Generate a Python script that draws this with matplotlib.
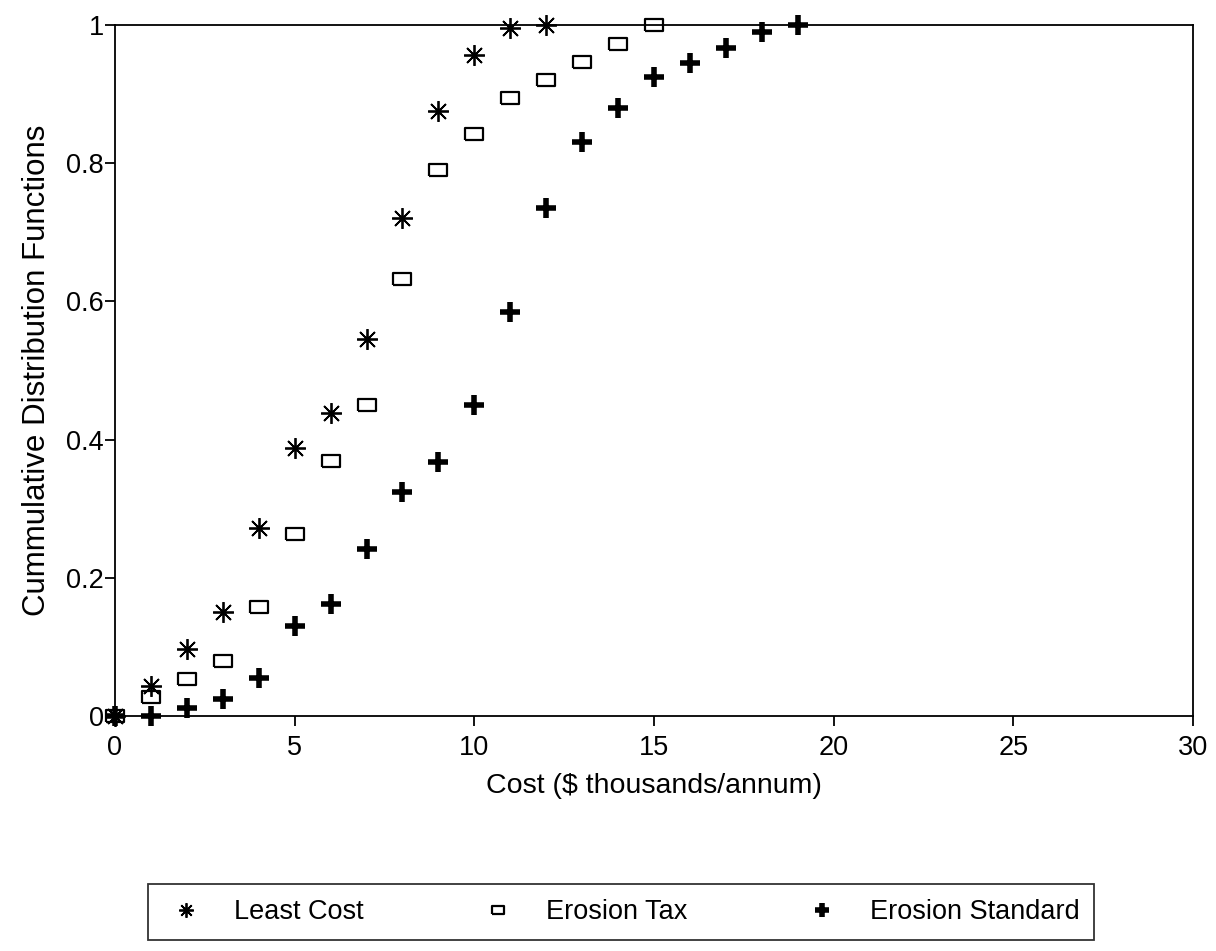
#!/usr/bin/env python3
"""
Cumulative distribution functions of cost for three erosion policies.
"""

import matplotlib
matplotlib.use('Agg')
import matplotlib.pyplot as plt
from matplotlib.ticker import FormatStrFormatter

plt.rcParams['font.family'] = ['Liberation Sans', 'DejaVu Sans']

# Data (cost in $ thousands/annum, CDF value)
least_cost_x = [0, 1, 2, 3, 4, 5, 6, 7, 8, 9, 10, 11, 12]
least_cost_y = [0, 0.043, 0.097, 0.15, 0.272, 0.388, 0.438, 0.546,
                0.72, 0.875, 0.957, 0.996, 1.0]

erosion_tax_x = [0, 1, 2, 3, 4, 5, 6, 7, 8, 9, 10, 11, 12, 13, 14, 15]
erosion_tax_y = [0, 0.027, 0.053, 0.08, 0.158, 0.264, 0.369, 0.45, 0.632,
                 0.79, 0.842, 0.894, 0.92, 0.946, 0.973, 1.0]

erosion_std_x = [0, 1, 2, 3, 4, 5, 6, 7, 8, 9, 10, 11, 12, 13, 14, 15,
                 16, 17, 18, 19]
erosion_std_y = [0, 0, 0.012, 0.025, 0.055, 0.13, 0.162, 0.242, 0.324,
                 0.368, 0.45, 0.585, 0.735, 0.83, 0.88, 0.925, 0.945,
                 0.967, 0.99, 1.0]

x_ticks = [0, 5, 10, 15, 20, 25, 30]
y_ticks = [0, 0.2, 0.4, 0.6, 0.8, 1]
y_tick_labels = ['0', '0.2', '0.4', '0.6', '0.8', '1']

# Hollow rectangle marker, wider than tall
rect_marker = [(-1, -0.68), (1, -0.68), (1, 0.68), (-1, 0.68), (-1, -0.68)]

fig = plt.figure(figsize=(12.16, 9.51), dpi=100)
fig.patch.set_facecolor('white')
ax = fig.add_axes([115 / 1216, 1 - 716 / 951, 1078 / 1216, 691 / 951])

ax.plot(least_cost_x, least_cost_y, linestyle='none', marker=(8, 2, 0),
        markersize=15, markeredgewidth=1.3, color='black',
        label='Least Cost', clip_on=False, zorder=3)
ax.plot(erosion_tax_x, erosion_tax_y, linestyle='none', marker=rect_marker,
        markersize=13, markeredgewidth=1.6, markerfacecolor='none',
        markeredgecolor='black', label='Erosion Tax', clip_on=False, zorder=3)
ax.plot(erosion_std_x, erosion_std_y, linestyle='none', marker='+',
        markersize=14, markeredgewidth=4, color='black',
        label='Erosion Standard', clip_on=False, zorder=3)

ax.set_xlim(0, 30)
ax.set_ylim(0, 1)
ax.set_xticks(x_ticks)
ax.set_yticks(y_ticks)
ax.set_yticklabels(y_tick_labels)
ax.xaxis.set_major_formatter(FormatStrFormatter('%d'))

ax.tick_params(axis='both', direction='out', length=7, width=1.3,
               labelsize=19.5, colors='black')
ax.tick_params(axis='x', pad=7)
ax.tick_params(axis='y', pad=1)
ax.tick_params(top=False, right=False)

for spine in ax.spines.values():
    spine.set_linewidth(1.3)
    spine.set_edgecolor('black')

ax.set_xlabel('Cost (\\$ thousands/annum)', fontsize=20.5, labelpad=8)
ax.set_ylabel('Cummulative Distribution Functions', fontsize=22.5,
              labelpad=10)

# Legend box across the bottom of the figure
leg = fig.legend(loc='lower left', ncol=3,
                 bbox_to_anchor=(148 / 1216, 1 - 940 / 951),
                 fontsize=19.5, frameon=True, fancybox=False,
                 edgecolor='black', borderpad=0.55, borderaxespad=0,
                 handlelength=1.73, handletextpad=0.9, columnspacing=4.1,
                 markerscale=0.7)
leg.get_frame().set_linewidth(1.3)

fig.savefig('out.png', dpi=100, facecolor='white')
